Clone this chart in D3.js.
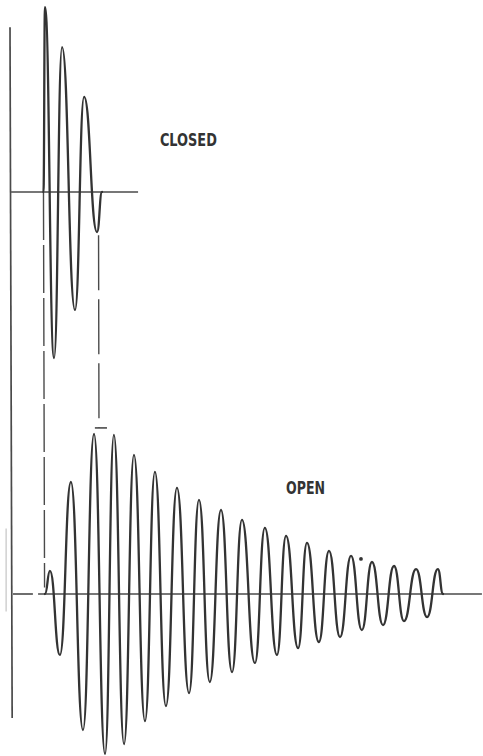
<!DOCTYPE html>
<html>
<head>
<meta charset="utf-8">
<script src="https://cdn.jsdelivr.net/npm/d3@7"></script>
<style>
  html, body { margin: 0; padding: 0; background: #fff; }
  svg { display: block; }
</style>
</head>
<body>
<svg id="chart" width="483" height="756"></svg>
<script>
// ---- Data (time in cycles, amplitude in arbitrary units) ----
const closedTime = [0, 0.07, 0.49, 0.86, 1.46, 1.88, 2.48, 2.71];
const closedAmp  = [0, 11.56, -10.38, 9.06, -7.38, 5.94, -2.5, 0];

const openTime = [0.07, 0.30, 0.76, 1.27, 1.83, 2.34, 2.85, 3.26, 3.73, 4.19, 4.70,
  5.16, 5.67, 6.18, 6.74, 7.20, 7.70, 8.22, 8.73, 9.19, 9.79, 10.25, 10.81, 11.23,
  11.79, 12.20, 12.75, 13.22, 13.73, 14.24, 14.74, 15.21, 15.72, 16.23, 16.69,
  17.25, 17.76, 18.26, 18.50];
const openAmp = [0, 1.44, -3.81, 7.0, -8.5, 10.0, -10.0, 9.94, -9.38, 8.69, -7.94,
  7.63, -7.0, 6.63, -6.19, 5.88, -5.5, 5.25, -4.88, 4.63, -4.31, 4.13, -3.81, 3.63,
  -3.38, 3.19, -3.0, 2.69, -2.69, 2.38, -2.25, 2.0, -1.94, 1.75, -1.69, 1.56,
  -1.44, 1.56, 0];

const labels = ["CLOSED", "OPEN"];

// ---- Scales ----
const x = d3.scaleLinear().domain([-1.55, 20.35]).range([10, 483]);
const yTop = d3.scaleLinear().domain([-10, 10]).range([352, 32]);
const yBot = d3.scaleLinear().domain([-10, 10]).range([754, 434]);

const svg = d3.select("#chart");
const ink = "#333";
const rule = "#4a4a4a";

// Left vertical axis
svg.append("line")
  .attr("x1", x(-1.55)).attr("y1", yTop(10.3))
  .attr("x2", x(-1.45)).attr("y2", yBot(-7.75))
  .attr("stroke", rule).attr("stroke-width", 1.7);

// faint mark on left
svg.append("line")
  .attr("x1", x(-1.73)).attr("y1", yBot(4.1))
  .attr("x2", x(-1.73)).attr("y2", yBot(-1.1))
  .attr("stroke", "#c4c4c4").attr("stroke-width", 1.2);

// Baselines
svg.append("line")
  .attr("x1", x(-1.5)).attr("y1", yTop(0))
  .attr("x2", x(4.38)).attr("y2", yTop(0))
  .attr("stroke", rule).attr("stroke-width", 1.6);
svg.append("line")
  .attr("x1", x(-1.41)).attr("y1", yBot(0))
  .attr("x2", x(-0.49)).attr("y2", yBot(0))
  .attr("stroke", rule).attr("stroke-width", 1.6);
svg.append("line")
  .attr("x1", x(-0.25)).attr("y1", yBot(0))
  .attr("x2", x(20.3)).attr("y2", yBot(0))
  .attr("stroke", rule).attr("stroke-width", 1.6);

// Dashed connector lines
svg.append("line")
  .attr("x1", x(0)).attr("y1", yTop(0))
  .attr("x2", x(0.05)).attr("y2", yBot(0.4))
  .attr("stroke", rule).attr("stroke-width", 1.4)
  .attr("stroke-dasharray", "48,5");
svg.append("line")
  .attr("x1", x(2.55)).attr("y1", yTop(-2.7))
  .attr("x2", x(2.57)).attr("y2", yBot(10.38))
  .attr("stroke", rule).attr("stroke-width", 1.4)
  .attr("stroke-dasharray", "55,9");
svg.append("line")
  .attr("x1", x(2.38)).attr("y1", yBot(10.38))
  .attr("x2", x(2.94)).attr("y2", yBot(10.38))
  .attr("stroke", rule).attr("stroke-width", 1.6);

// Waveforms
const closedData = closedTime.map((t, i) => [t, closedAmp[i]]);
const openData = openTime.map((t, i) => [t, openAmp[i]]);

svg.append("path")
  .datum(closedData)
  .attr("fill", "none").attr("stroke", ink).attr("stroke-width", 2.3)
  .attr("stroke-linejoin", "round").attr("stroke-linecap", "round")
  .attr("d", d3.line().x(d => x(d[0])).y(d => yTop(d[1])).curve(d3.curveBumpX));

svg.append("path")
  .datum(openData)
  .attr("fill", "none").attr("stroke", ink).attr("stroke-width", 2.3)
  .attr("stroke-linejoin", "round").attr("stroke-linecap", "round")
  .attr("d", d3.line().x(d => x(d[0])).y(d => yBot(d[1])).curve(d3.curveBumpX));

// dot
svg.append("circle")
  .attr("cx", x(14.7)).attr("cy", yBot(2.19)).attr("r", 1.9).attr("fill", ink);

// Labels
svg.append("text")
  .attr("x", x(5.39)).attr("y", yTop(2.875))
  .attr("font-family", "'DejaVu Sans Condensed', 'DejaVu Sans', sans-serif")
  .attr("font-size", 17).attr("font-weight", "bold").attr("fill", "#333")
  .attr("textLength", 57).attr("lengthAdjust", "spacingAndGlyphs")
  .text(labels[0]);
svg.append("text")
  .attr("x", x(11.23)).attr("y", yBot(6.25))
  .attr("font-family", "'DejaVu Sans Condensed', 'DejaVu Sans', sans-serif")
  .attr("font-size", 17).attr("font-weight", "bold").attr("fill", "#333")
  .attr("textLength", 39).attr("lengthAdjust", "spacingAndGlyphs")
  .text(labels[1]);
</script>
</body>
</html>
